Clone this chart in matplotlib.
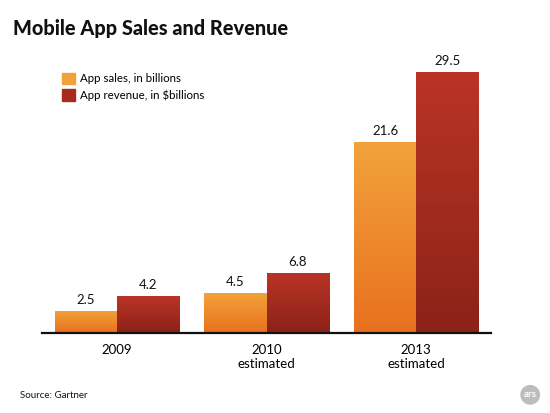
import numpy as np
import matplotlib
matplotlib.use("Agg")
import matplotlib.pyplot as plt
from matplotlib.colors import LinearSegmentedColormap
from matplotlib.patches import Ellipse

plt.rcParams['font.family'] = ['Lato', 'DejaVu Sans']

categories = ["2009", "2010\nestimated", "2013\nestimated"]
series_names = ["App sales, in billions", "App revenue, in $billions"]
app_sales = [2.5, 4.5, 21.6]
app_revenue = [4.2, 6.8, 29.5]

# top colour, bottom colour for each series
grad_colors = [("#F2A23A", "#E8711F"), ("#BA3426", "#8C2218")]

fig = plt.figure(figsize=(5.5, 4.13), dpi=100)
ax = fig.add_axes([0.0764, 0.1937, 0.8163, 0.7094])

x = np.arange(len(categories))
width = 0.415
all_bars = []
for i, (vals, name) in enumerate(zip([app_sales, app_revenue], series_names)):
    offs = (i - 0.5) * width
    top, bot = grad_colors[i]
    bars = ax.bar(x + offs, vals, width, color=bot, label=name, edgecolor="none")
    cmap = LinearSegmentedColormap.from_list("g%d" % i, [bot, top])
    for b, v in zip(bars, vals):
        x0 = b.get_x()
        grad = np.linspace(0, 1, 64).reshape(-1, 1)
        im = ax.imshow(grad, cmap=cmap, aspect="auto", origin="lower",
                       extent=(x0, x0 + b.get_width(), 0, v), zorder=2)
        im.set_clip_path(b)
        ax.text(b.get_x() + b.get_width() / 2, v + 0.6, f"{v}", ha="center",
                va="bottom", fontsize=9.5, color="#111111")
    all_bars.append(bars)

ax.set_xlim(-0.5, 2.5)
ax.set_ylim(0, 33.1)
for s in ["top", "right", "left"]:
    ax.spines[s].set_visible(False)
ax.spines["bottom"].set_linewidth(1.6)
ax.spines["bottom"].set_color("#111111")
ax.set_yticks([])
ax.set_xticks(x)
ax.set_xticklabels(categories, fontsize=9.5, linespacing=1.15)
ax.tick_params(axis="x", length=0, pad=8)

leg = ax.legend(handles=[all_bars[0][0], all_bars[1][0]], labels=series_names,
                loc="upper left", bbox_to_anchor=(0.102, 0.838),
                bbox_transform=fig.transFigure, frameon=False, fontsize=8.3,
                handlelength=1.15, handleheight=1.15, handletextpad=0.4,
                labelspacing=0.45, borderpad=0)
leg.legend_handles[0].set_color(grad_colors[0][0])
leg.legend_handles[1].set_color("#A82B20")

fig.text(0.024, 0.955, "Mobile App Sales and Revenue", fontsize=14.3,
         fontweight="black", color="#111111", va="top")
fig.text(0.036, 0.042, "Source: Gartner", fontsize=7, color="#111111", va="center")

logo = Ellipse((0.964, 0.044), 0.036, 0.048, transform=fig.transFigure,
               facecolor="#BDBDBD", edgecolor="none")
fig.patches.append(logo)
fig.text(0.964, 0.046, "ars", fontsize=7, color="white", ha="center",
         va="center", fontweight="bold")

fig.savefig("out.png", dpi=100)
